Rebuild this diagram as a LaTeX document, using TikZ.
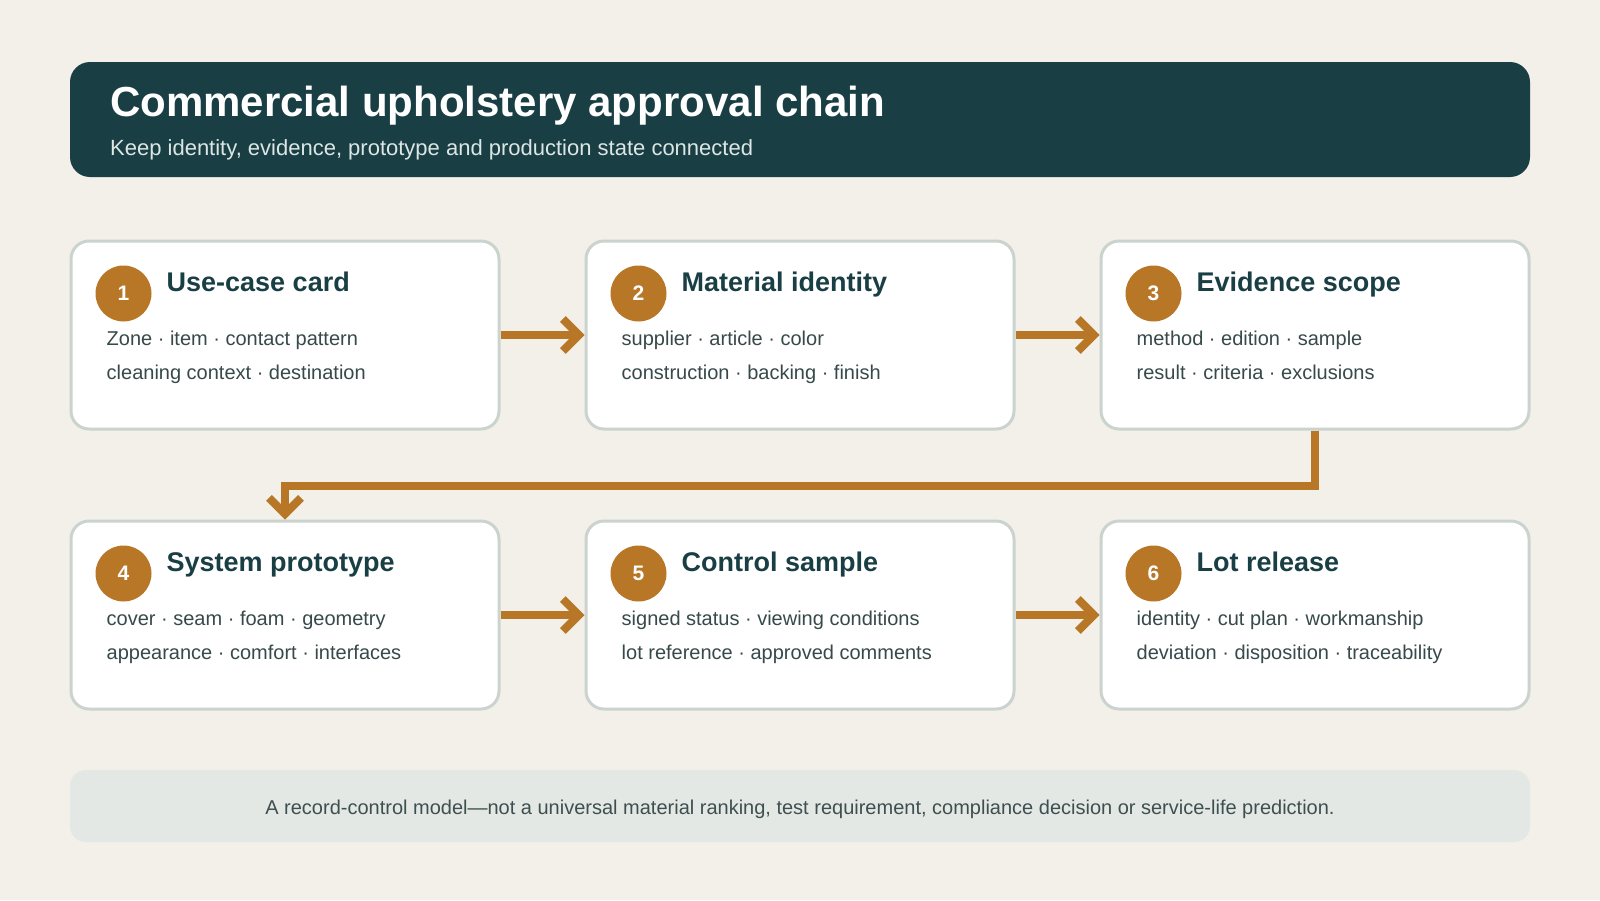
\documentclass[tikz,border=0pt]{standalone}
\usepackage{fontspec}
\setmainfont{Liberation Sans}
\usetikzlibrary{arrows.meta,calc}
\definecolor{bgc}{HTML}{F3F0EA}
\definecolor{headc}{HTML}{193F45}
\definecolor{subc}{HTML}{DCE6E4}
\definecolor{orc}{HTML}{B87627}
\definecolor{cardline}{HTML}{CBD3CF}
\definecolor{bodyc}{HTML}{384949}
\definecolor{footc}{HTML}{E3E8E4}
\definecolor{foottext}{HTML}{3E4F50}
\tikzset{
  card/.style={draw=cardline, line width=3pt, fill=white, rounded corners=18pt,
    minimum width=428pt, minimum height=188pt, inner sep=0pt},
  badge/.style={circle, fill=orc, minimum size=56pt, inner sep=0pt,
    text=white, font=\fontsize{21}{24}\selectfont\bfseries},
  cardtitle/.style={anchor=base west, inner sep=0pt, text=headc,
    font=\fontsize{27}{31}\selectfont\bfseries},
  cardbody/.style={anchor=base west, inner sep=0pt, text=bodyc,
    font=\fontsize{20}{24}\selectfont},
  flow/.style={draw=orc, line width=8pt,
    -{Straight Barb[length=16pt,width=32pt,line width=8pt]}},
}
\begin{document}
\begin{tikzpicture}[x=1pt,y=-1pt]
\useasboundingbox[fill=bgc] (0,0) rectangle (1600,900);
% header
\node[fill=headc, rounded corners=20pt, minimum width=1460pt, minimum height=115pt,
  inner sep=0pt] (head) at (800,119.5) {};
\node[anchor=base west, inner sep=0pt, text=white,
  font=\fontsize{42}{48}\selectfont\bfseries] (htitle) at (110,116) {Commercial upholstery approval chain};
\node[anchor=base west, inner sep=0pt, text=subc,
  font=\fontsize{22}{26}\selectfont] (hsub) at (110,155) {Keep identity, evidence, prototype and production state connected};
% cards
\foreach \n/\cx/\cy/\ttl/\la/\lb in {
  1/285/335/{Use-case card}/{Zone · item · contact pattern}/{cleaning context · destination},
  2/800/335/{Material identity}/{supplier · article · color}/{construction · backing · finish},
  3/1315/335/{Evidence scope}/{method · edition · sample}/{result · criteria · exclusions},
  4/285/615/{System prototype}/{cover · seam · foam · geometry}/{appearance · comfort · interfaces},
  5/800/615/{Control sample}/{signed status · viewing conditions}/{lot reference · approved comments},
  6/1315/615/{Lot release}/{identity · cut plan · workmanship}/{deviation · disposition · traceability}}{
  \node[card] (b\n) at (\cx,\cy) {};
  \node[badge] (c\n) at ($(b\n.north west)+(54,54)$) {\n};
  \node[cardtitle] (t\n) at ($(b\n.north west)+(97,52)$) {\ttl};
  \node[cardbody] (la\n) at ($(b\n.north west)+(37,106)$) {\la};
  \node[cardbody] (lb\n) at ($(b\n.north west)+(37,140)$) {\lb};
}
% connectors
\draw[flow] (b1.east) -- (b2.west);
\draw[flow] (b2.east) -- (b3.west);
\draw[flow] (b4.east) -- (b5.west);
\draw[flow] (b5.east) -- (b6.west);
\coordinate (k1) at ($(b3.south)+(0,55)$);
\coordinate (k2) at ($(b4.north)+(0,-35)$);
\draw[flow, line join=miter] (b3.south) -- (k1) -- (k1 -| k2) -- (b4.north);
% footer
\node[fill=footc, rounded corners=16pt, minimum width=1460pt, minimum height=72pt,
  inner sep=0pt] (foot) at (800,806) {};
\node[text=foottext, font=\fontsize{20}{24}\selectfont, inner sep=0pt] (ftext) at ($(foot.center)+(0,3)$)
  {A record-control model—not a universal material ranking, test requirement, compliance decision or service-life prediction.};
\end{tikzpicture}
\end{document}
